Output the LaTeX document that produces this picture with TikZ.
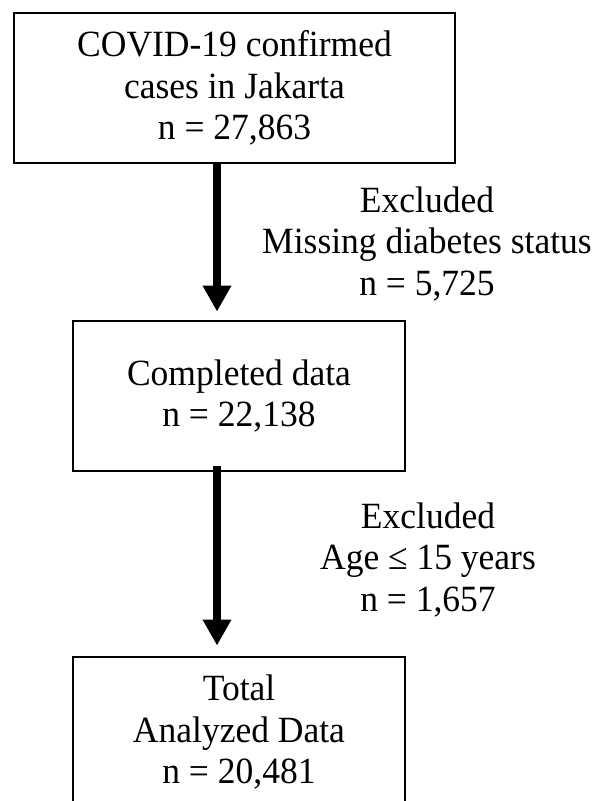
\documentclass[tikz,border=0pt]{standalone}
\usepackage{fontspec}
\setmainfont{Liberation Serif}[FakeStretch=0.96]
\usetikzlibrary{arrows.meta}
\begin{document}
\begin{tikzpicture}[x=1pt,y=-1pt,
  every node/.style={font=\fontsize{37}{41.5}\selectfont, align=center, inner sep=0pt},
  box/.style={draw=black, line width=2.8pt},
  flowarrow/.style={line width=8pt, -{Triangle[length=26pt,width=27pt]}}]
\path[fill=white, use as bounding box] (0,0) rectangle (602,801);
\node[box, minimum width=441pt, minimum height=150pt] (top) at (234.5,88)
  {COVID-19 confirmed\\cases in Jakarta\\n = 27,863};
\node[box, minimum width=332pt, minimum height=150pt] (mid) at (239,396)
  {Completed data\\n = 22,138};
\node[box, minimum width=332pt, minimum height=150pt] (bot) at (239,732)
  {Total\\Analyzed Data\\n = 20,481};
\node (ex1) at (427,244) {Excluded\\Missing diabetes status\\n = 5,725};
\node (ex2) at (428,560) {Excluded\\Age ≤ 15 years\\n = 1,657};
\coordinate (ax) at (217,0);
\draw[flowarrow] (top.south -| ax) -- ([yshift=8pt]mid.north -| ax);
\draw[flowarrow] ([yshift=6pt]mid.south -| ax) -- ([yshift=10pt]bot.north -| ax);
\end{tikzpicture}
\end{document}
